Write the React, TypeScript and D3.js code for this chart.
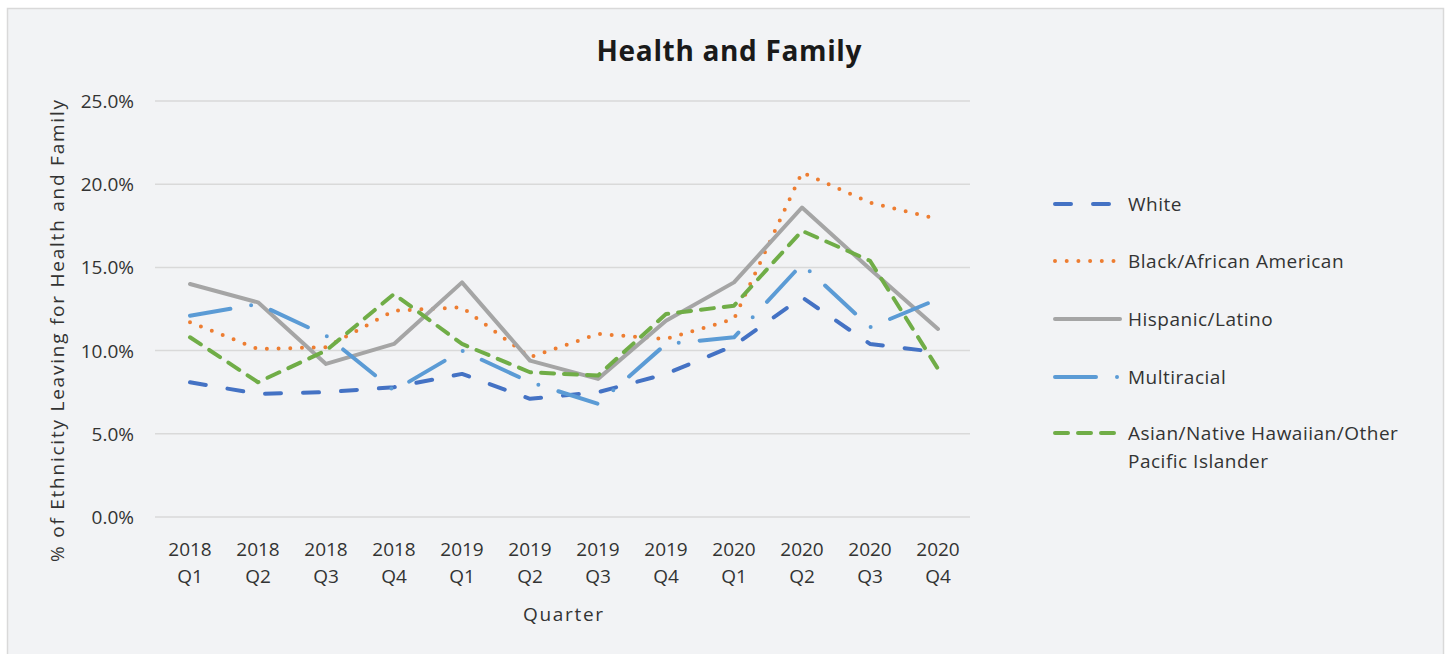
import React from 'react';
import * as d3 from 'd3';

const quarters = ['2018 Q1', '2018 Q2', '2018 Q3', '2018 Q4', '2019 Q1', '2019 Q2', '2019 Q3', '2019 Q4', '2020 Q1', '2020 Q2', '2020 Q3', '2020 Q4'];

const white = [8.1, 7.4, 7.5, 7.8, 8.6, 7.1, 7.5, 8.6, 10.3, 13.2, 10.4, 9.9];
const black = [11.7, 10.1, 10.2, 12.4, 12.6, 9.6, 11.0, 10.7, 11.9, 20.7, 18.9, 17.9];
const hispanic = [14.0, 12.9, 9.2, 10.4, 14.1, 9.4, 8.3, 11.8, 14.1, 18.6, 14.9, 11.3];
const multiracial = [12.1, 12.8, 10.9, 7.6, 10.0, 8.1, 6.8, 10.4, 10.8, 15.2, 11.4, 13.1];
const asian = [10.8, 8.1, 10.0, 13.4, 10.4, 8.7, 8.5, 12.2, 12.7, 17.2, 15.4, 8.9];

const yTicks = [0, 5, 10, 15, 20, 25];

const series = [
  { name: ['White'], values: white, color: '#4472c4', dash: '16 22', width: 4 },
  { name: ['Black/African American'], values: black, color: '#ed7d31', dash: '0 11.7', width: 4 },
  { name: ['Hispanic/Latino'], values: hispanic, color: '#a5a5a5', dash: null, width: 4 },
  { name: ['Multiracial'], values: multiracial, color: '#5b9bd5', dash: '41 21 0 21', width: 4 },
  { name: ['Asian/Native Hawaiian/Other', 'Pacific Islander'], values: asian, color: '#70ad47', dash: '13 10', width: 4 },
];

const FONT = '"Open Sans", "Noto Sans", sans-serif';
const legendY = [204, 261, 319, 377, 433];

export default function App() {
  const x = d3.scaleBand().domain(quarters).range([156, 972]);
  const cx = (q: string) => (x(q) as number) + x.bandwidth() / 2;
  const y = d3.scaleLinear().domain([0, 25]).range([517, 101]);

  const line = d3.line<number>()
    .x((_, i) => cx(quarters[i]))
    .y(d => y(d));

  return (
    <svg width={1449} height={654} style={{ position: 'absolute', left: 0, top: 0 }} fontFamily={FONT}>
      <rect x={0} y={0} width={1449} height={654} fill="#ffffff" />
      <rect x={7.5} y={8.5} width={1436} height={660} fill="#f2f3f5" stroke="#d9d9d9" strokeWidth={1.5} />

      <text x={729} y={61} textAnchor="middle" fontSize={28} fontWeight={700} fill="#1a1a1a"
        textLength={265} lengthAdjust="spacing">Health and Family</text>

      {/* gridlines + y labels */}
      {yTicks.map(t => (
        <g key={t}>
          <line x1={155} x2={970} y1={y(t)} y2={y(t)} stroke="#d9d9d9" strokeWidth={1.5} />
          <text x={134} y={y(t) + 7} textAnchor="end" fontSize={19} fill="#333">{t.toFixed(1)}%</text>
        </g>
      ))}

      {/* x labels */}
      {quarters.map(q => {
        const [yr, qq] = q.split(' ');
        return (
          <text key={q} x={cx(q)} textAnchor="middle" fontSize={19} fill="#333">
            <tspan x={cx(q)} y={556}>{yr}</tspan>
            <tspan x={cx(q)} y={583}>{qq}</tspan>
          </text>
        );
      })}

      <text x={563} y={621} textAnchor="middle" fontSize={19} fill="#333"
        textLength={80} lengthAdjust="spacing">Quarter</text>
      <text transform="translate(64,331) rotate(-90)" textAnchor="middle" fontSize={19} fill="#333"
        textLength={462} lengthAdjust="spacing">
        % of Ethnicity Leaving for Health and Family
      </text>

      {/* series */}
      {series.map(s => (
        <path key={s.name[0]} d={line(s.values) || ''} fill="none" stroke={s.color}
          strokeWidth={s.width} strokeDasharray={s.dash || undefined}
          strokeLinecap="round" strokeLinejoin="round" />
      ))}

      {/* legend */}
      {series.map((s, i) => (
        <g key={'lg' + i}>
          <line x1={1055} x2={s.dash ? 1119 : 1120} y1={legendY[i]} y2={legendY[i]} stroke={s.color}
            strokeWidth={s.width} strokeDasharray={s.dash || undefined} strokeLinecap="round" />
          {s.name.map((n, j) => (
            <text key={n} x={1128} y={legendY[i] + 7 + j * 28} fontSize={19} fill="#333"
              letterSpacing={0.5}>{n}</text>
          ))}
        </g>
      ))}
    </svg>
  );
}
